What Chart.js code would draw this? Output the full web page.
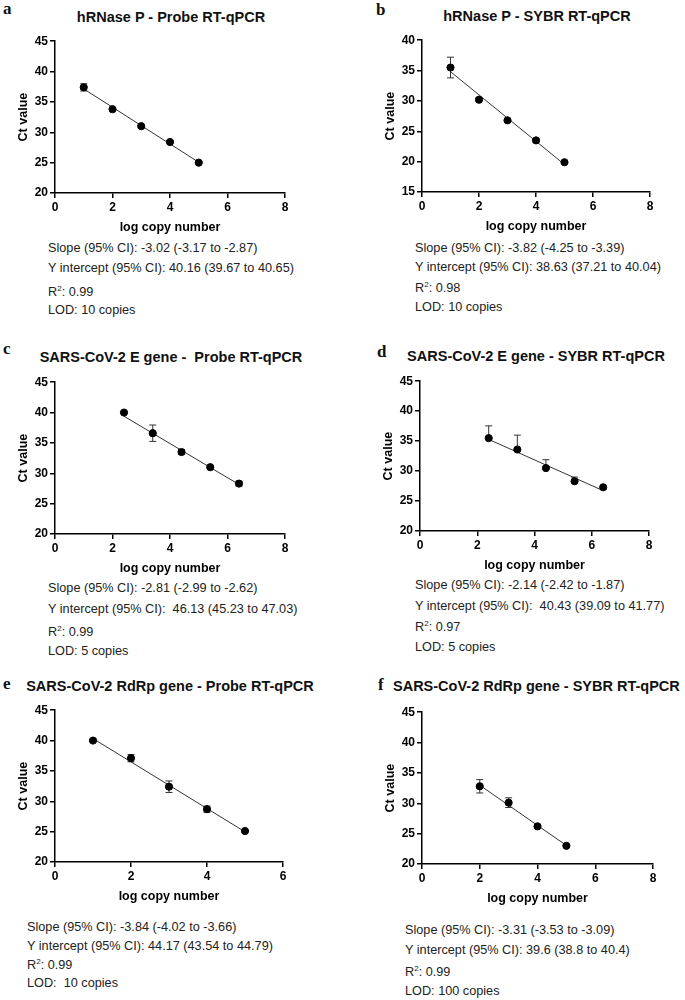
<!DOCTYPE html>
<html>
<head>
<meta charset="utf-8">
<script src="https://cdn.jsdelivr.net/npm/chart.js@4/dist/chart.umd.min.js"></script>
<style>
  body { margin: 0; background: #fff; }
  #page { position: relative; width: 685px; height: 1000px; overflow: hidden; font-family: "Liberation Sans", Arial, sans-serif; }
  canvas { position: absolute; }
  .ttl { position: absolute; font-weight: bold; font-size: 14.5px; color: #111; white-space: pre; line-height: 16px; }
  .let { position: absolute; font-family: "Liberation Serif", "Times New Roman", serif; font-weight: bold; font-size: 17px; color: #111; line-height: 16px; }
  .st { position: absolute; font-size: 12.7px; color: #222; white-space: pre; line-height: 14px; }
  .st sup { font-size: 8px; vertical-align: 0; position: relative; top: -5px; }
</style>
</head>
<body>
<div id="page"></div>
<script>
// a: hRNase P - Probe
const aX = [1, 2, 3, 4, 5];
const aCt = [37.4, 33.8, 31.0, 28.4, 25.0];
const aErrUp = [0.6, 0.2, 0.2, 0.2, 0.1];
const aErrDn = [0.6, 0.2, 0.2, 0.2, 0.1];
const aFitX = [1, 5];
const aFitY = [37.14, 25.06];

// b: hRNase P - SYBR
const bX = [1, 2, 3, 4, 5];
const bCt = [35.5, 30.2, 26.8, 23.5, 19.9];
const bErrUp = [1.7, 0.2, 0.2, 0.2, 0.1];
const bErrDn = [1.7, 0.2, 0.2, 0.2, 0.1];
const bFitX = [1, 5];
const bFitY = [34.81, 19.53];

// c: E gene - Probe
const cX = [2.4, 3.4, 4.4, 5.4, 6.4];
const cCt = [40.0, 36.6, 33.5, 31.0, 28.3];
const cErrUp = [0.1, 1.35, 0.4, 0.15, 0.4];
const cErrDn = [0.1, 1.35, 0.4, 0.15, 0.4];
const cFitX = [2.4, 6.4];
const cFitY = [39.39, 28.15];

// d: E gene - SYBR (upper bars only)
const dX = [2.4, 3.4, 4.4, 5.4, 6.4];
const dCt = [35.5, 33.6, 30.5, 28.3, 27.3];
const dErrUp = [2.05, 2.4, 1.4, 0.7, 0];
const dErrDn = [0, 0, 0, 0, 0];
const dFitX = [2.4, 6.4];
const dFitY = [35.29, 26.73];

// e: RdRp gene - Probe
const eX = [1, 2, 3, 4, 5];
const eCt = [40.0, 37.1, 32.4, 28.7, 25.1];
const eErrUp = [0.1, 0.6, 0.95, 0.5, 0.1];
const eErrDn = [0.1, 0.6, 0.95, 0.5, 0.1];
const eFitX = [1, 5];
const eFitY = [40.33, 24.97];

// f: RdRp gene - SYBR
const fX = [2, 3, 4, 5];
const fCt = [32.8, 30.1, 26.2, 23.0];
const fErrUp = [1.1, 0.8, 0.2, 0.1];
const fErrDn = [1.1, 0.8, 0.2, 0.1];
const fFitX = [2, 5];
const fFitY = [32.98, 23.05];

const titles = [
  "hRNase P - Probe RT-qPCR",
  "hRNase P - SYBR RT-qPCR",
  "SARS-CoV-2 E gene -  Probe RT-qPCR",
  "SARS-CoV-2 E gene - SYBR RT-qPCR",
  "SARS-CoV-2 RdRp gene - Probe RT-qPCR",
  "SARS-CoV-2 RdRp gene - SYBR RT-qPCR"
];
const letters = ["a", "b", "c", "d", "e", "f"];
const stats = [
  ["Slope (95% CI): -3.02 (-3.17 to -2.87)", "Y intercept (95% CI): 40.16 (39.67 to 40.65)", "R<sup>2</sup>: 0.99", "LOD: 10 copies"],
  ["Slope (95% CI): -3.82 (-4.25 to -3.39)", "Y intercept (95% CI): 38.63 (37.21 to 40.04)", "R<sup>2</sup>: 0.98", "LOD: 10 copies"],
  ["Slope (95% CI): -2.81 (-2.99 to -2.62)", "Y intercept (95% CI):  46.13 (45.23 to 47.03)", "R<sup>2</sup>: 0.99", "LOD: 5 copies"],
  ["Slope (95% CI): -2.14 (-2.42 to -1.87)", "Y intercept (95% CI):  40.43 (39.09 to 41.77)", "R<sup>2</sup>: 0.97", "LOD: 5 copies"],
  ["Slope (95% CI): -3.84 (-4.02 to -3.66)", "Y intercept (95% CI): 44.17 (43.54 to 44.79)", "R<sup>2</sup>: 0.99", "LOD:  10 copies"],
  ["Slope (95% CI): -3.31 (-3.53 to -3.09)", "Y intercept (95% CI): 39.6 (38.8 to 40.4)", "R<sup>2</sup>: 0.99", "LOD: 100 copies"]
];

// layout: chart area box, axis ranges, text placement
const panels = [
  { x: aX, y: aCt, up: aErrUp, dn: aErrDn, fx: aFitX, fy: aFitY, L: 55, R: 285, T: 40, B: 193, xmax: 8, ymin: 20, ymax: 45,
    tc: 171, ty: 17, lx: 3, ly: 9, sx: 48, sy: [248, 268, 292, 310] },
  { x: bX, y: bCt, up: bErrUp, dn: bErrDn, fx: bFitX, fy: bFitY, L: 422, R: 650, T: 39, B: 192, xmax: 8, ymin: 15, ymax: 40,
    tc: 537, ty: 16, lx: 376, ly: 10, sx: 415, sy: [248, 267, 288, 307] },
  { x: cX, y: cCt, up: cErrUp, dn: cErrDn, fx: cFitX, fy: cFitY, L: 55, R: 285, T: 381, B: 534, xmax: 8, ymin: 20, ymax: 45,
    tc: 171, ty: 357, lx: 3, ly: 349, sx: 48, sy: [588, 609, 632, 651] },
  { x: dX, y: dCt, up: dErrUp, dn: dErrDn, fx: dFitX, fy: dFitY, L: 420, R: 649, T: 380, B: 531, xmax: 8, ymin: 20, ymax: 45,
    tc: 536, ty: 356, lx: 377, ly: 352, sx: 415, sy: [585, 606, 627, 647] },
  { x: eX, y: eCt, up: eErrUp, dn: eErrDn, fx: eFitX, fy: eFitY, L: 55, R: 283, T: 709, B: 862, xmax: 6, ymin: 20, ymax: 45,
    tc: 170, ty: 686, lx: 3, ly: 684, sx: 27, sy: [927, 946, 965, 983] },
  { x: fX, y: fCt, up: fErrUp, dn: fErrDn, fx: fFitX, fy: fFitY, L: 422, R: 653, T: 711, B: 864, xmax: 8, ymin: 20, ymax: 45,
    tl: 393, ty: 686, lx: 378, ly: 685, sx: 405, sy: [930, 950, 972, 991] }
];

const errorBars = {
  id: "errorBars",
  beforeDatasetsDraw(chart, args, opts) {
    const xs = chart.scales.x, ys = chart.scales.y;
    const ctx = chart.ctx;
    ctx.save();
    ctx.strokeStyle = "#333";
    ctx.lineWidth = 1;
    chart.data.datasets[0].data.forEach((p, i) => {
      const px = xs.getPixelForValue(p.x);
      const u = opts.up[i], d = opts.dn[i];
      if (u > 0) {
        const py = ys.getPixelForValue(p.y + u);
        ctx.beginPath();
        ctx.moveTo(px, ys.getPixelForValue(p.y)); ctx.lineTo(px, py);
        ctx.moveTo(px - 3.5, py); ctx.lineTo(px + 3.5, py);
        ctx.stroke();
      }
      if (d > 0) {
        const py = ys.getPixelForValue(p.y - d);
        ctx.beginPath();
        ctx.moveTo(px, ys.getPixelForValue(p.y)); ctx.lineTo(px, py);
        ctx.moveTo(px - 3.5, py); ctx.lineTo(px + 3.5, py);
        ctx.stroke();
      }
    });
    ctx.restore();
  }
};

const page = document.getElementById("page");
const YW = 45, XH = 45, PT = 8, PR = 10;
const tickFont = { family: "'Liberation Sans', Arial, sans-serif", size: 12, weight: "bold" };
const titleFont = { family: "'Liberation Sans', Arial, sans-serif", size: 12.5, weight: "bold" };

function addDiv(cls, html, left, top, extra) {
  const el = document.createElement("div");
  el.className = cls;
  el.innerHTML = html;
  el.style.left = left + "px";
  el.style.top = top + "px";
  if (extra) Object.assign(el.style, extra);
  page.appendChild(el);
  return el;
}

panels.forEach((p, k) => {
  const left = p.L - YW, top = p.T - PT;
  const w = p.R - left + PR, h = p.B - top + XH;
  const cv = document.createElement("canvas");
  cv.width = w; cv.height = h;
  cv.style.left = left + "px"; cv.style.top = top + "px";
  cv.style.width = w + "px"; cv.style.height = h + "px";
  page.appendChild(cv);

  const axis = {
    grid: { display: true, drawOnChartArea: false, drawTicks: true, tickLength: 5, color: "#000", lineWidth: 1.5 },
    border: { display: true, color: "#000", width: 1.5 },
    ticks: { color: "#000", font: tickFont, padding: 2 }
  };

  new Chart(cv.getContext("2d"), {
    type: "scatter",
    data: {
      datasets: [
        {
          data: p.x.map((v, i) => ({ x: v, y: p.y[i] })),
          backgroundColor: "#000", borderColor: "#000",
          pointRadius: 3.6, pointHoverRadius: 3.6, showLine: false
        },
        {
          type: "line",
          data: p.fx.map((v, i) => ({ x: v, y: p.fy[i] })),
          borderColor: "#333", borderWidth: 1, pointRadius: 0, fill: false
        }
      ]
    },
    options: {
      responsive: false,
      animation: false,
      events: [],
      layout: { padding: { top: PT, right: PR, left: 0, bottom: 0 } },
      plugins: {
        legend: { display: false },
        tooltip: { enabled: false },
        errorBars: { up: p.up, dn: p.dn }
      },
      scales: {
        x: Object.assign({}, axis, {
          type: "linear", min: 0, max: p.xmax,
          ticks: Object.assign({}, axis.ticks, { stepSize: 2 }),
          title: { display: true, text: "log copy number", color: "#000", font: titleFont, padding: { top: 0, bottom: 3 } },
          afterFit(s) { s.height = XH; }
        }),
        y: Object.assign({}, axis, {
          type: "linear", min: p.ymin, max: p.ymax,
          ticks: Object.assign({}, axis.ticks, { stepSize: 5 }),
          title: { display: true, text: "Ct value", color: "#000", font: titleFont, padding: { top: 6, bottom: 0 } },
          afterFit(s) { s.width = YW; }
        })
      }
    },
    plugins: [errorBars]
  });

  if (p.tl !== undefined) {
    addDiv("ttl", titles[k], p.tl, p.ty - 8);
  } else {
    addDiv("ttl", titles[k], p.tc - 200, p.ty - 8, { width: "400px", textAlign: "center" });
  }
  addDiv("let", letters[k], p.lx, p.ly - 8);
  stats[k].forEach((s, j) => addDiv("st", s, p.sx, p.sy[j] - 7));
});
</script>
</body>
</html>
